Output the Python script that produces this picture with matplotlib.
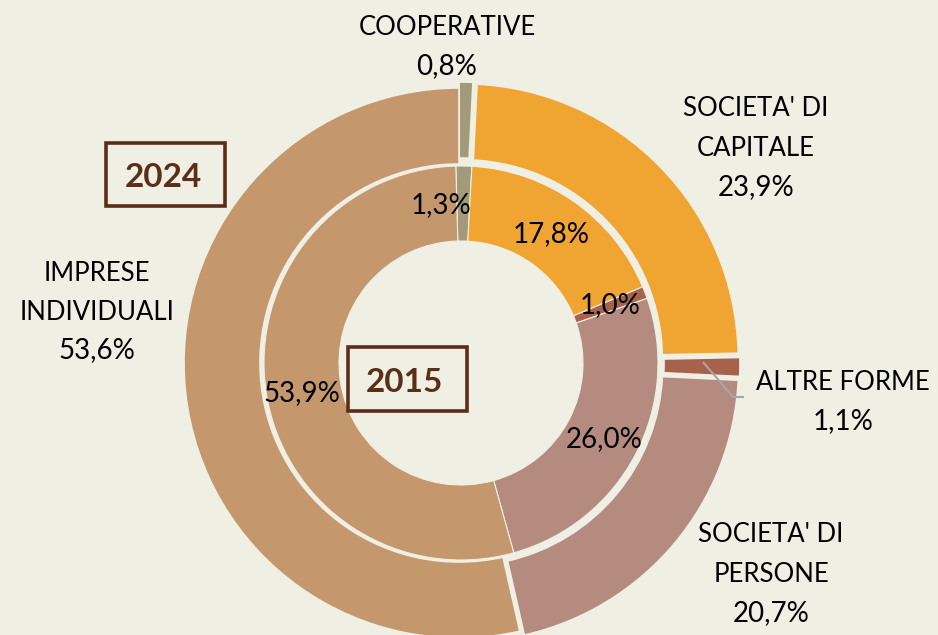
import matplotlib
matplotlib.use("Agg")
import matplotlib.pyplot as plt
from matplotlib.patches import Rectangle

categories = ["COOPERATIVE", "SOCIETA' DI CAPITALE", "ALTRE FORME", "SOCIETA' DI PERSONE", "IMPRESE INDIVIDUALI"]
values_2024 = [0.8, 23.9, 1.1, 20.7, 53.6]
values_2015 = [1.3, 17.8, 1.0, 26.0, 53.9]
name_lines = [["COOPERATIVE"], ["SOCIETA' DI", "CAPITALE"], ["ALTRE FORME"],
              ["SOCIETA' DI", "PERSONE"], ["IMPRESE", "INDIVIDUALI"]]
pct_2024 = ["0,8%", "23,9%", "1,1%", "20,7%", "53,6%"]
pct_2015 = ["1,3%", "17,8%", "1,0%", "26,0%", "53,9%"]
colors = ["#a39a79", "#f0a431", "#a6624b", "#b58a7f", "#c4986c"]
BG = "#f0efe4"
BROWN = "#5b2e18"
FONT = "Lato"

W, H = 938, 635
fig = plt.figure(figsize=(W / 100, H / 100), dpi=100, facecolor=BG)
ax = fig.add_axes([0, 0, 1, 1])
ax.set_facecolor(BG)
ax.axis("off")

def py(y):
    return H - y

cx, cy = 459, py(363)
explode_out = [6, 6, 6, 6, 0]

ax.pie(values_2024, radius=275, center=(cx, cy), startangle=90, counterclock=False,
       colors=colors, explode=explode_out,
       wedgeprops=dict(width=76, edgecolor=BG, linewidth=1.2))
ax.pie(values_2015, radius=197, center=(cx + 2, cy), startangle=91.5, counterclock=False,
       colors=colors,
       wedgeprops=dict(width=75, edgecolor=BG, linewidth=0.8))
ax.set_xlim(0, W)
ax.set_ylim(0, H)
ax.set_aspect("auto")

fs_word = 18.5
fs_pct = 20
# (x center, baselines of name lines..., baseline of percent)
lab_pos_2024 = [(447, [35], 74), (756, [116, 156], 195), (843, [390], 429),
                (771, [542, 582], 621), (97, [281, 320], 358)]
for lines, pct, (x, bases, pbase) in zip(name_lines, pct_2024, lab_pos_2024):
    for ln, b in zip(lines, bases):
        ax.text(x, py(b), ln, ha="center", va="baseline", fontsize=fs_word,
                family=FONT, color="#000000")
    ax.text(x, py(pbase), pct, ha="center", va="baseline", fontsize=fs_pct,
            family=FONT, color="#000000")

lab_pos_2015 = [(441, 213), (551, 242), (610, 313), (604, 447), (302, 401)]
for txt, (x, b) in zip(pct_2015, lab_pos_2015):
    ax.text(x, py(b), txt, ha="center", va="baseline", fontsize=fs_pct,
            family=FONT, color="#000000")

# leader line for ALTRE FORME
ax.plot([703, 733, 744], [py(362), py(397), py(397)], color="#a6a6a6", lw=1.5,
        solid_capstyle="butt")

# year boxes
for (x0, y0, x1, y1, tx, tb, t) in [(106, 143, 225, 206, 163, 187, "2024"),
                                    (348, 347, 467, 411, 404, 392, "2015")]:
    ax.add_patch(Rectangle((x0, py(y1)), x1 - x0, y1 - y0, fill=False,
                           edgecolor=BROWN, lw=2.6))
    ax.text(tx, py(tb), t, ha="center", va="baseline",
            fontsize=24, fontweight="bold", family=FONT, color=BROWN)

fig.savefig("out.png", dpi=100, facecolor=BG)
